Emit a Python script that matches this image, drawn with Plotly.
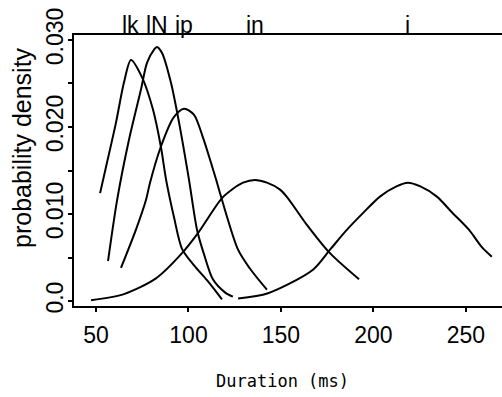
import numpy as np
import plotly.graph_objects as go

# ---- data ----
labels = ["lk", "lN", "ip", "in", "i"]

lk_ms = [52.2, 55.4, 60.8, 65.1, 68.9, 74.9, 80.8, 85.1, 88.0, 92.2, 96.5, 103.0, 110.0, 118.1]
lk_d = [0.0124, 0.0154, 0.0205, 0.0251, 0.0277, 0.0257, 0.0220, 0.0177, 0.0138, 0.0096,
        0.0060, 0.0041, 0.0024, 0.0002]

lN_ms = [56.5, 61.4, 67.8, 74.3, 77.6, 81.4, 83.0, 85.7, 90.5, 94.9, 100.3, 104.6, 108.5,
         113.2, 119.7, 124.0]
lN_d = [0.0046, 0.0116, 0.0185, 0.0243, 0.0274, 0.0289, 0.0292, 0.0285, 0.0251, 0.0205,
        0.0139, 0.0082, 0.0053, 0.0025, 0.0010, 0.0005]

ip_ms = [63.5, 71.6, 77.0, 79.2, 85.0, 92.0, 97.6, 103.0, 107.8, 112.0, 115.0, 118.0,
         126.8, 133.0, 142.4]
ip_d = [0.0038, 0.0082, 0.0116, 0.0136, 0.0177, 0.0211, 0.0221, 0.0214, 0.0188, 0.0160,
        0.0139, 0.0117, 0.0059, 0.0038, 0.0013]

in_ms = [47.3, 65.1, 82.4, 96.5, 105.1, 118.0, 124.1, 129.5, 135.9, 142.4, 149.5, 153.8,
         163.5, 176.5, 192.2]
in_d = [0.0001, 0.0008, 0.0026, 0.0055, 0.0078, 0.0118, 0.0129, 0.0136, 0.0139, 0.0136,
        0.0128, 0.0118, 0.0089, 0.0055, 0.0025]

i_ms = [126.8, 143.0, 167.3, 176.5, 185.7, 194.3, 203.5, 212.7, 218.6, 225.1, 234.3,
        242.4, 251.6, 258.6, 264.0]
i_d = [0.0003, 0.0009, 0.0036, 0.0059, 0.0082, 0.0101, 0.0120, 0.0132, 0.0136, 0.0132,
       0.0120, 0.0102, 0.0082, 0.0062, 0.0051]

x_ticks = [50, 100, 150, 200, 250]
y_ticks = [0.0, 0.005, 0.010, 0.015, 0.020, 0.025, 0.030]
y_ticktext = ["0.0", "", "0.010", "", "0.020", "", "0.030"]

x_title = "Duration (ms)"
y_title = "probability density"

series = [(lk_ms, lk_d), (lN_ms, lN_d), (ip_ms, ip_d), (in_ms, in_d), (i_ms, i_d)]

# ---- figure ----
W, H = 502, 397
ML, MR, MT, MB = 74, 0, 35, 91
PW, PH = W - ML - MR, H - MT - MB

fig = go.Figure()
for ms, d in series:
    fig.add_trace(go.Scatter(x=ms, y=d, mode="lines",
                             line=dict(color="black", width=2, shape="spline", smoothing=0.8),
                             showlegend=False, hoverinfo="skip"))

sans = "Liberation Sans, Arial, sans-serif"
annotations = []
for (ms, d), lab in zip(series, labels):
    px = ms[int(np.argmax(d))]
    annotations.append(dict(x=px, y=1, xref="x", yref="paper", text=lab,
                            showarrow=False, xanchor="center", yanchor="bottom",
                            yshift=-5, font=dict(family=sans, size=23, color="black")))

annotations.append(dict(x=(22 - ML) / PW, y=(MT + PH - 148) / PH, xref="paper", yref="paper",
                        text=y_title, textangle=-90, showarrow=False,
                        xanchor="center", yanchor="middle",
                        font=dict(family=sans, size=25, color="black")))
annotations.append(dict(x=(282 - ML) / PW, y=(MT + PH - 381) / PH, xref="paper", yref="paper",
                        text=x_title, showarrow=False, xanchor="center", yanchor="middle",
                        font=dict(family="DejaVu Sans Mono, monospace", size=17, color="black")))

fig.update_layout(width=W, height=H, margin=dict(l=ML, r=MR, t=MT, b=MB),
                  paper_bgcolor="white", plot_bgcolor="white", showlegend=False,
                  annotations=annotations)

fig.update_xaxes(range=[38.1, 269.5], tickmode="array", tickvals=x_ticks,
                 showline=True, linecolor="black", linewidth=2, mirror=True,
                 ticks="outside", ticklen=4, tickwidth=1.5, tickcolor="black",
                 showgrid=False, zeroline=False, ticklabelstandoff=3,
                 tickfont=dict(family=sans, size=23, color="black"))
fig.update_yaxes(range=[-0.00057, 0.03057], tickmode="array", tickvals=y_ticks,
                 ticktext=y_ticktext, tickangle=-90,
                 showline=True, linecolor="black", linewidth=2, mirror=False,
                 ticks="outside", ticklen=4, tickwidth=1.5, tickcolor="black",
                 showgrid=False, zeroline=False, ticklabelstandoff=-4,
                 tickfont=dict(family=sans, size=23, color="black"))

fig.write_html("out.html")
